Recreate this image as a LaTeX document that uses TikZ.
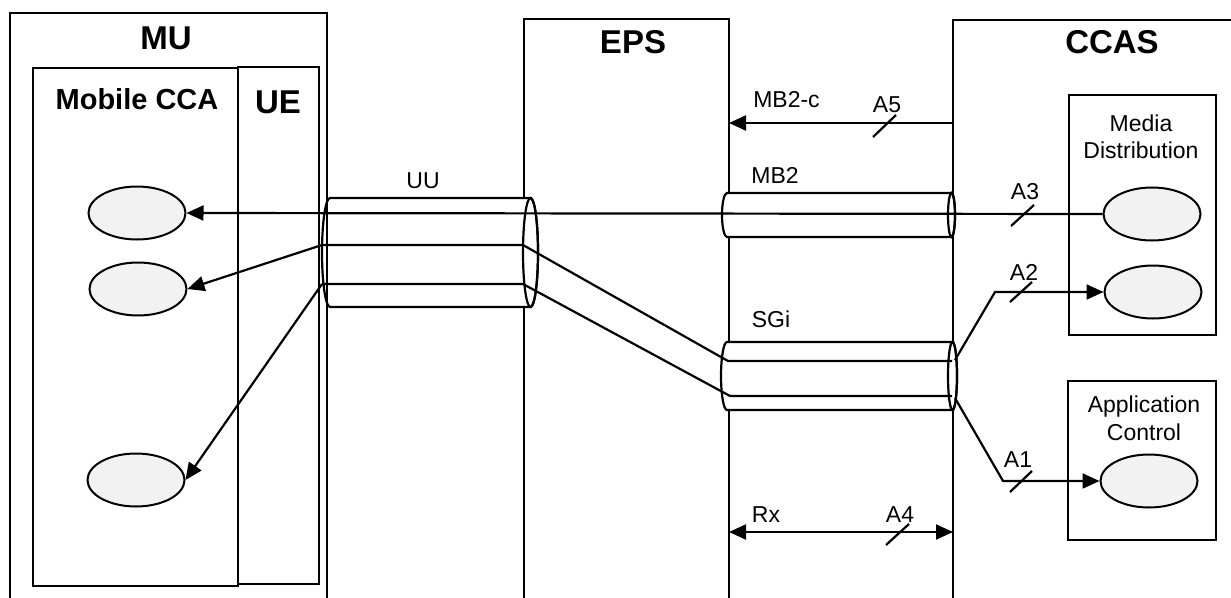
\documentclass[tikz,border=0pt]{standalone}
\usepackage{fontspec}
\setmainfont{Liberation Sans}
\usetikzlibrary{arrows.meta,shapes.geometric}
\definecolor{ovalgray}{RGB}{242,242,242}
\begin{document}
\begin{tikzpicture}[x=1pt,y=-1pt,
  box/.style={line width=2.6pt},
  pipe/.style={line width=2.2pt,fill=white},
  pipeline/.style={line width=2.2pt},
  conn/.style={line width=2.2pt},
  tip/.style={-{Triangle[length=17pt,width=15pt]}},
  oval/.style={draw,ellipse,fill=ovalgray,line width=2pt,minimum width=97pt,minimum height=53pt,inner sep=0pt},
  lab/.style={anchor=base,inner sep=0pt,font=\fontsize{23}{27}\selectfont},
  blab/.style={anchor=base,inner sep=0pt,font=\fontsize{33}{38}\selectfont\bfseries}]
\useasboundingbox (0,0) rectangle (1231,597);
\begin{scope}
\clip (0,0) rectangle (1231,597);
% EPS and CCAS boxes (under the pipes)
\draw[box] (524,620) -- (524,19) -- (729,19) -- (729,620);
\draw[box] (953,620) -- (953,20) -- (1260,20) -- (1260,620);
% UU pipe
\draw[pipe] (330,198) -- (530.5,198) arc[start angle=-90,end angle=90,x radius=7.5,y radius=54.5]
  -- (330,307) arc[start angle=90,end angle=270,x radius=8,y radius=54.5] -- cycle;
\draw[pipeline] (530.5,252.5) ellipse[x radius=7.5,y radius=54.5];
% MB2 pipe
\draw[pipe] (727,193) -- (951.5,193) arc[start angle=-90,end angle=90,x radius=3.5,y radius=22]
  -- (727,237) arc[start angle=90,end angle=270,x radius=5,y radius=22] -- cycle;
\draw[pipeline] (951.5,215) ellipse[x radius=3.5,y radius=22];
% SGi pipe
\draw[pipe] (727,342) -- (952.5,342) arc[start angle=-90,end angle=90,x radius=4.5,y radius=34]
  -- (727,410) arc[start angle=90,end angle=270,x radius=6,y radius=34] -- cycle;
\draw[pipeline] (952.5,376) ellipse[x radius=4.5,y radius=34];
% MU, Mobile CCA, UE boxes
\draw[box] (10,620) -- (10,13) -- (327,13) -- (327,620);
\draw[box] (33,68) rectangle (238,586);
\draw[box] (238,67) rectangle (319,584);
\end{scope}
% labels of the big boxes
\node[blab] (mu) at (166,49) {MU};
\node[blab] (eps) at (633,53) {EPS};
\node[blab] (ccas) at (1112,53) {CCAS};
\node[blab] (ue) at (278,113) {UE};
\node[anchor=base,inner sep=0pt,font=\fontsize{29}{34}\selectfont\bfseries] (mcca) at (137,109) {Mobile CCA};
% sub boxes in CCAS
\draw[box] (1069,95) rectangle (1216,335);
\draw[box] (1068,381) rectangle (1216,540);
\node[lab] (media) at (1141,131) {Media};
\node[lab] (distr) at (1141,158) {Distribution};
\node[lab] (appl) at (1144,412) {Application};
\node[lab] (ctrl) at (1144,440) {Control};
% ovals
\node[oval] (e1) at (137,213) {};
\node[oval] (e2) at (138,289) {};
\node[oval] (e3) at (136,480) {};
\node[oval] (md1) at (1152,214) {};
\node[oval] (md2) at (1153,292) {};
\node[oval] (ac) at (1149,481) {};
% connection points
\coordinate (uuA) at (322,245);
\coordinate (uuAr) at (523,245);
\coordinate (sgA) at (728,361);
\coordinate (sgAr) at (952,361);
\coordinate (uuB) at (322,284);
\coordinate (uuBr) at (523,284);
\coordinate (sgB) at (730,396);
\coordinate (sgBr) at (952,396);
\coordinate (a2s) at (955,360);
\coordinate (a2k) at (995,292);
\coordinate (a1s) at (955,398);
\coordinate (a1k) at (1003,481);
\coordinate (mbcS) at (953,123);
\coordinate (mbcE) at (729,123);
\coordinate (rxL) at (729,532);
\coordinate (rxR) at (953,532);
% connectors
\draw[conn] (uuA) -- (uuAr) -- (sgA) -- (sgAr);
\draw[conn] (uuB) -- (uuBr) -- (sgB) -- (sgBr);
\draw[conn,tip] (md1.west) -- (e1.east);
\draw[conn,tip] (uuA) -- (e2.east);
\draw[conn,tip] (uuB) -- (e3.east);
\draw[conn,tip] (mbcS) -- (mbcE);
\draw[conn,{Triangle[length=17pt,width=15pt]}-{Triangle[length=17pt,width=15pt]}] (rxL) -- (rxR);
\draw[conn,tip] (a2s) -- (a2k) -- (md2.west);
\draw[conn,tip] (a1s) -- (a1k) -- (ac.west);
% slash marks
\draw[conn] (873,137) -- (896,115);
\draw[conn] (1011,226) -- (1034,205);
\draw[conn] (1010,302) -- (1032,282);
\draw[conn] (1010,492) -- (1032,471);
\draw[conn] (886,545) -- (909,524);
% connector labels
\node[lab] (luu) at (423,188) {UU};
\node[lab] (lmbc) at (786.5,107) {MB2-c};
\node[lab] (la5) at (887,112) {A5};
\node[lab] (lmb2) at (775,183) {MB2};
\node[lab] (la3) at (1025,199) {A3};
\node[lab] (la2) at (1024,280) {A2};
\node[lab] (lsgi) at (771,327) {SGi};
\node[lab] (la1) at (1018,467) {A1};
\node[lab] (lrx) at (766,522) {Rx};
\node[lab] (la4) at (900,522) {A4};
\end{tikzpicture}
\end{document}
